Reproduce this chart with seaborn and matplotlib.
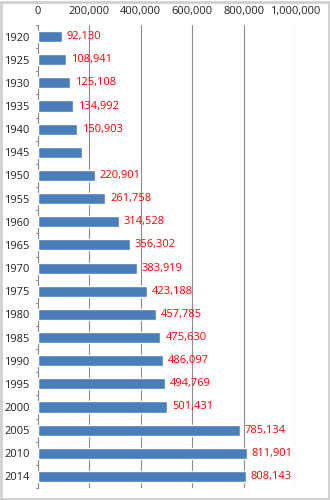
import matplotlib
matplotlib.use("Agg")
import matplotlib.pyplot as plt
from matplotlib.ticker import FuncFormatter, FixedLocator
import seaborn as sns
import pandas as pd

years = ["1920", "1925", "1930", "1935", "1940", "1945", "1950", "1955", "1960", "1965",
         "1970", "1975", "1980", "1985", "1990", "1995", "2000", "2005", "2010", "2014"]
population = [92130, 108941, 125108, 134992, 150903, 173000, 220901, 261758, 314528, 356302,
              383919, 423188, 457785, 475630, 486097, 494769, 501431, 785134, 811901, 808143]
labeled = [True, True, True, True, True, False] + [True] * 14
x_ticks = [0, 200000, 400000, 600000, 800000, 1000000]

df = pd.DataFrame({"year": years, "population": population})

sns.set_theme(style="white")
plt.rcParams["font.family"] = ["Open Sans", "DejaVu Sans"]

fig = plt.figure(figsize=(3.3, 5.0), dpi=100)
ax = fig.add_axes([38 / 330, 1 - 488 / 500, (295 - 38) / 330, (488 - 25) / 500])

sns.barplot(data=df, y="year", x="population", orient="h", color="#4a7ebb",
            width=0.48, saturation=1, ax=ax, zorder=3)

ax.set_xlim(0, 1000000)
ax.set_ylim(len(years) - 0.5, -0.5)
ax.xaxis.set_major_locator(FixedLocator(x_ticks))
ax.xaxis.set_major_formatter(FuncFormatter(lambda v, p: f"{int(v):,}"))
ax.xaxis.tick_top()
ax.xaxis.set_label_position("top")
ax.set_xlabel("")
ax.set_ylabel("")
ax.grid(axis="x", color="#8c8c8c", linewidth=0.8, zorder=0)
ax.tick_params(axis="x", length=0, labelsize=8, pad=6, colors="#222222")
ax.tick_params(axis="y", length=0, labelsize=8, pad=6, colors="#222222")

# small separator ticks between categories on the value axis
for i in range(len(years) + 1):
    ax.plot([-9000, 0], [i - 0.5, i - 0.5], color="#8c8c8c", linewidth=0.8,
            clip_on=False, zorder=4)

for s in ["top", "right", "bottom"]:
    ax.spines[s].set_visible(False)
ax.spines["left"].set_color("#8c8c8c")
ax.spines["left"].set_linewidth(0.8)

for i, (v, show) in enumerate(zip(population, labeled)):
    if show:
        ax.text(v + 20000, i, f"{v:,}", va="center", ha="left", color="#ff0000",
                fontsize=8, zorder=5)

# outer frame around the figure
fig.patches.append(plt.Rectangle((0.004, 0.003), 0.992, 0.994, transform=fig.transFigure,
                                 fill=False, edgecolor="#d0d0d0", linewidth=2))

fig.savefig("out.png", dpi=100)
